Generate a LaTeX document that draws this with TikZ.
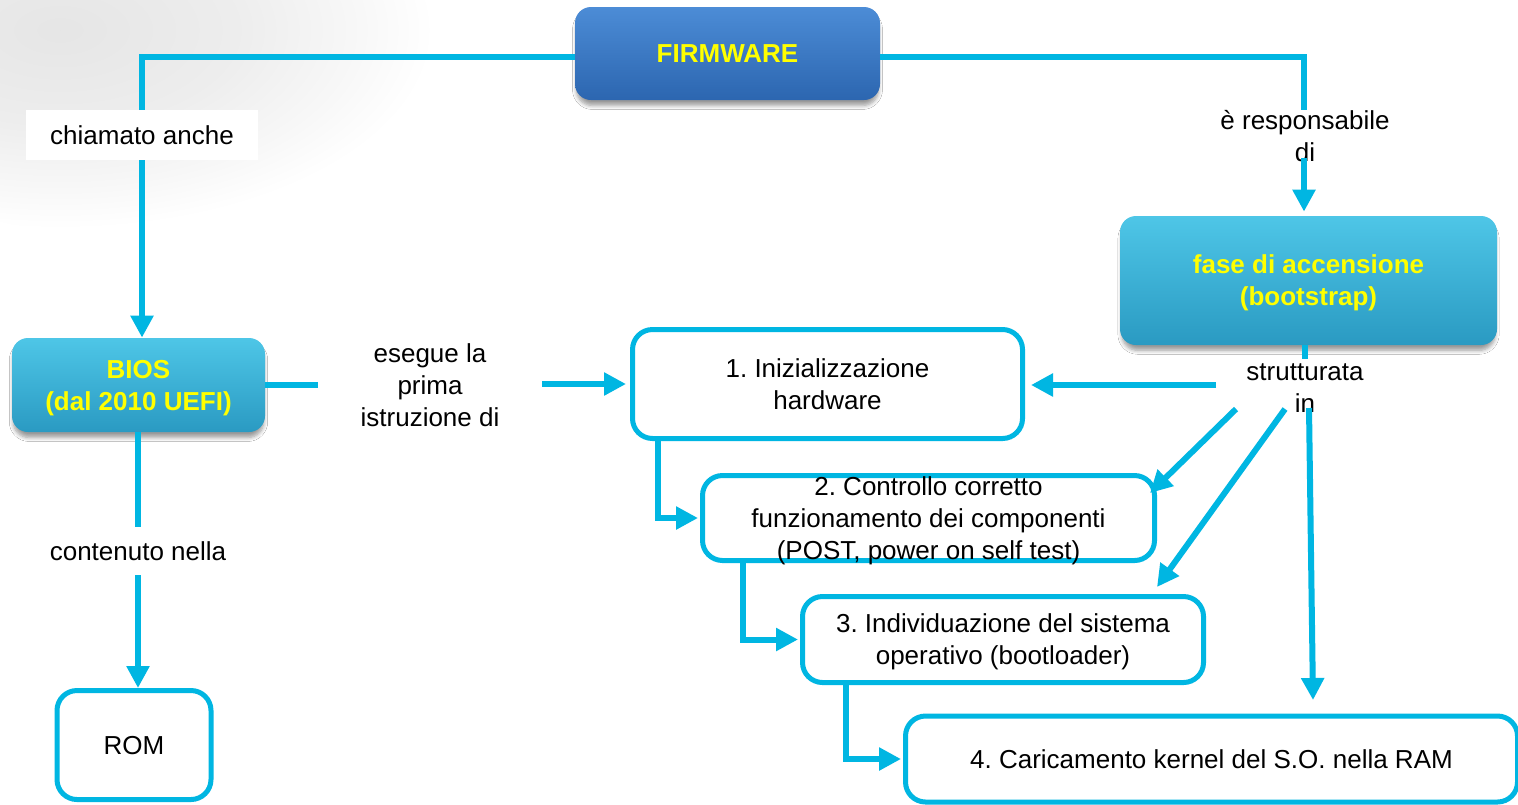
\documentclass[tikz,border=0pt]{standalone}
\usepackage{fontspec}
\setmainfont{Liberation Sans}
\usetikzlibrary{arrows.meta,shadows.blur,calc}
\frenchspacing

\definecolor{linkcyan}{RGB}{0,182,226}
\definecolor{fwtop}{RGB}{76,140,214}
\definecolor{fwbot}{RGB}{44,102,176}
\definecolor{tealtop}{RGB}{78,198,231}
\definecolor{tealbot}{RGB}{42,154,194}
\definecolor{labelyellow}{RGB}{255,255,0}

% soft grey wash that reaches pure white well inside its outline
\pgfdeclareradialshading{wash}{\pgfpoint{0bp}{0bp}}{%
  color(0bp)=(black!10); color(9bp)=(black!7); color(15bp)=(black!3);
  color(19bp)=(white); color(50bp)=(white)}

\begin{document}
\begin{tikzpicture}[x=0.5pt,y=-0.5pt,
  every node/.style={font=\fontsize{13}{16}\selectfont, align=center},
  fancybox/.style={rounded corners=8pt, draw=none, inner sep=0pt, text depth=0pt,
    text=labelyellow, font=\fontsize{13}{16}\selectfont\bfseries,
    blur shadow={shadow xshift=0pt, shadow yshift=-3pt, shadow scale=0.99,
      shadow blur radius=2pt, shadow blur steps=6, shadow opacity=40}},
  fwbox/.style={fancybox, top color=fwtop, bottom color=fwbot},
  tealbox/.style={fancybox, top color=tealtop, bottom color=tealbot},
  stepbox/.style={draw=linkcyan, line width=2.5pt, rounded corners=10pt,
    fill=white, inner sep=0pt, text depth=0pt},
  tag/.style={inner sep=0pt},
  link/.style={draw=linkcyan, line width=3pt},
  arrowlink/.style={link, -{Triangle[length=11pt,width=11pt]}}]

\useasboundingbox (0,0) rectangle (1518,804);
\fill[white] (0,0) rectangle (1518,804);

% faint grey wash in the upper left corner
\begin{scope}
  \clip (0,0) rectangle (700,300);
  \shade[shading=wash, rotate around={-15:(60,30)}]
    (60,30) ellipse (480 and 200);
\end{scope}

% coloured headings
\node[fwbox, minimum width=152.5pt, minimum height=46.5pt] (fw) at (727.5,53.5) {FIRMWARE};
\node[tealbox, minimum width=126.5pt, minimum height=47pt] (bios) at (138.5,385)
  {BIOS\\(dal 2010 UEFI)};
\node[tealbox, minimum width=188.5pt, minimum height=64.5pt] (fase) at (1308.5,280.5)
  {fase di accensione\\(bootstrap)};

% boot steps
\node[stepbox, minimum width=195pt, minimum height=54.5pt] (box1) at (827.5,384)
  {1. Inizializzazione\\hardware};
\node[stepbox, minimum width=226pt, minimum height=42.5pt, inner ysep=0pt] (box2) at (928.5,518)
  {2. Controllo corretto\\funzionamento dei componenti\\(POST, power on self test)};
\node[stepbox, minimum width=200.5pt, minimum height=43pt] (box3) at (1003,639.5)
  {3. Individuazione del sistema\\operativo (bootloader)};
\node[stepbox, minimum width=306pt, minimum height=43pt] (box4) at (1211.5,759)
  {4. Caricamento kernel del S.O. nella RAM};
\node[stepbox, minimum width=77pt, minimum height=54.5pt] (rom) at (134,745)
  {ROM};

% link labels
\node[tag, fill=white, inner xsep=12pt, minimum height=25pt] (chiamato) at (142,135)
  {chiamato anche};
\node[tag, minimum width=112pt] (esegue) at (430,385)
  {esegue la\\prima\\istruzione di};
\node[tag, fill=white, inner xsep=8pt, minimum height=24pt] (contenuto) at (138,551)
  {contenuto nella};
\node[tag] (resp) at (1305,136) {è responsabile\\di};
\node[tag, fill=white, inner ysep=2pt] (strutt) at (1305,388) {strutturata\\in};

% free ends of the connectors around the labels
\coordinate (fwL) at ($(fw.west)+(0,3)$);
\coordinate (fwR) at ($(fw.east)+(0,3)$);
\coordinate (respTop) at (1304,110);
\coordinate (respBot) at (1304,158);
\coordinate (strL) at (1216,385);
\coordinate (strD1) at (1236,409);
\coordinate (strD2) at (1285,409);
\coordinate (strV) at (1309,408);
\coordinate (tipD1) at (1150,493);
\coordinate (tipD2) at (1157,587);
\coordinate (tipV) at (1313,700);

% firmware branches
\draw[link] (fwL) -- (fwL -| chiamato) -- (chiamato.north);
\draw[arrowlink] (chiamato.south) -- (chiamato.south |- bios.north);
\draw[link] (fwR) -- (fwR -| respTop) -- (respTop);
\draw[arrowlink, shorten >=2pt] (respBot) -- (respBot |- fase.north);

% bios branches
\draw[link] (bios.east) -- (bios.east -| esegue.west);
\draw[arrowlink, shorten >=2pt] (esegue.east |- box1.west) -- (box1.west);
\draw[link] (bios.south -| contenuto.north) -- (contenuto.north);
\draw[arrowlink] (contenuto.south) -- (contenuto.south |- rom.north);

% bootstrap phase split into the steps
\draw[link] (fase.south -| strutt.north) -- (strutt.north);
\draw[arrowlink, shorten >=3pt] (strL) -- (strL -| box1.east);
\draw[arrowlink] (strD1) -- (tipD1);
\draw[arrowlink] (strD2) -- (tipD2);
\draw[arrowlink] (strV) -- (tipV);

% step-to-step elbows
\draw[arrowlink, shorten >=1pt] ($(box1.south west)+(28,0)$) |- (box2.west);
\draw[arrowlink, shorten >=1pt] ($(box2.south west)+(43,0)$) |- (box3.west);
\draw[arrowlink, shorten >=1pt] ($(box3.south west)+(46,0)$) |- (box4.west);
\end{tikzpicture}
\end{document}
